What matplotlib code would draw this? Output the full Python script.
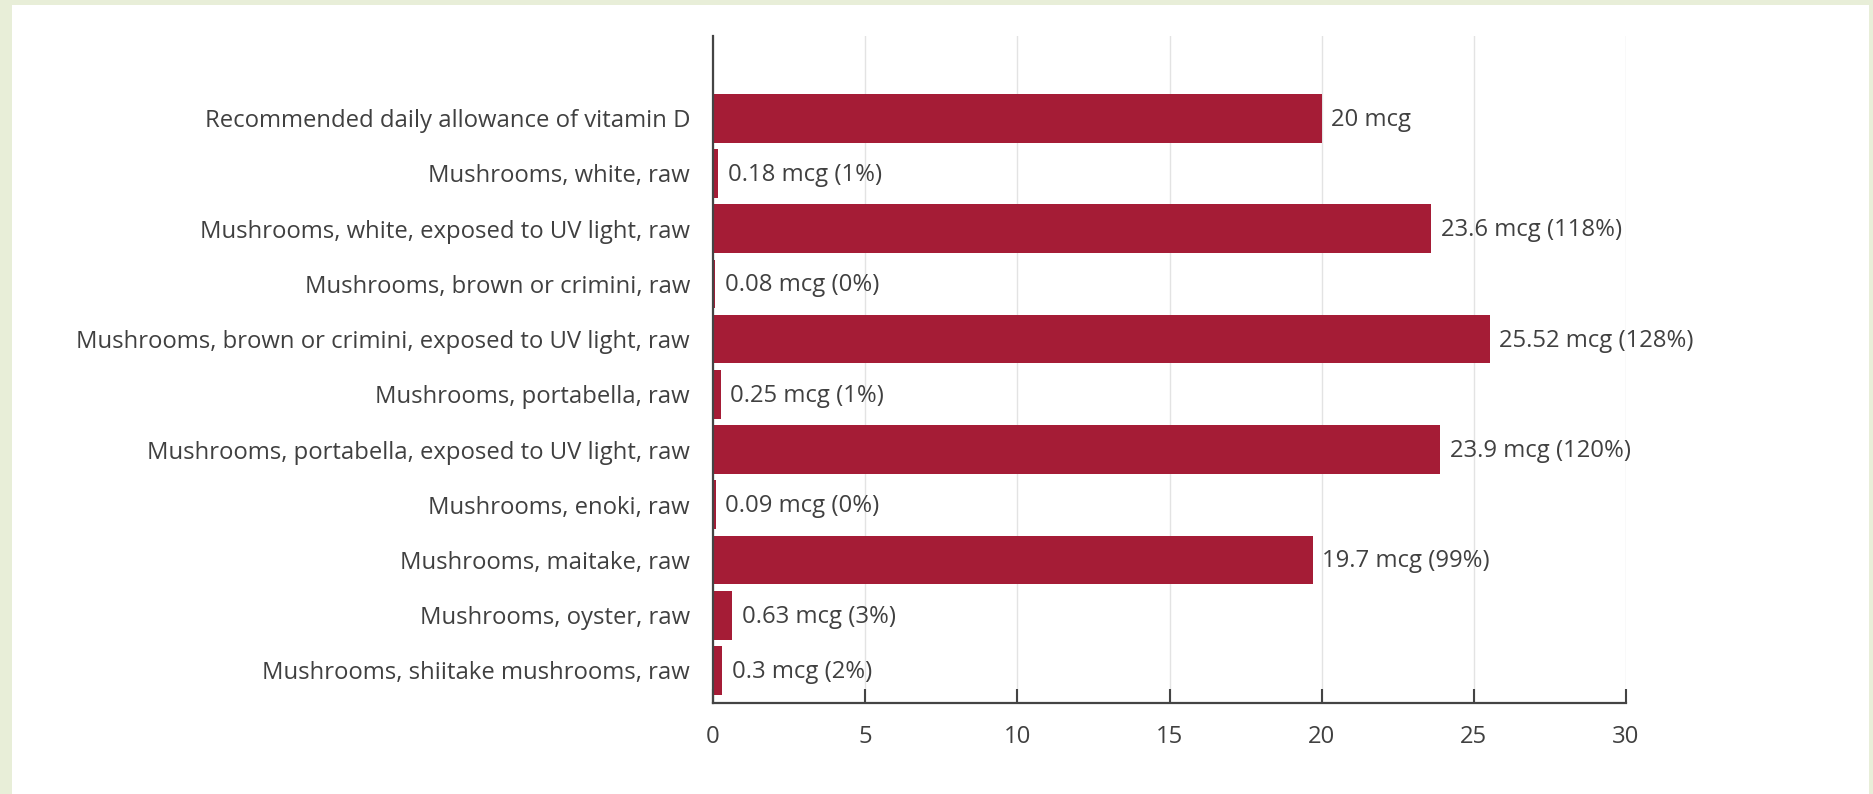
#!/usr/bin/env python3
"""Vitamin D content of mushrooms vs. the recommended daily allowance."""

import matplotlib.pyplot as plt
from matplotlib.patches import Rectangle

CATEGORIES = [
    "Recommended daily allowance of vitamin D",
    "Mushrooms, white, raw",
    "Mushrooms, white, exposed to UV light, raw",
    "Mushrooms, brown or crimini, raw",
    "Mushrooms, brown or crimini, exposed to UV light, raw",
    "Mushrooms, portabella, raw",
    "Mushrooms, portabella, exposed to UV light, raw",
    "Mushrooms, enoki, raw",
    "Mushrooms, maitake, raw",
    "Mushrooms, oyster, raw",
    "Mushrooms, shiitake mushrooms, raw",
]
VALUES_MCG = [20, 0.18, 23.6, 0.08, 25.52, 0.25, 23.9, 0.09, 19.7, 0.63, 0.3]
RDA_MCG = 20
X_TICKS = [0, 5, 10, 15, 20, 25, 30]

BAR_COLOR = "#a51c36"
TEXT_COLOR = "#404040"
BORDER_COLOR = "#e8eed8"
FONT = "Open Sans"
FONT_SIZE = 17.2


def value_label(i: int, v: float) -> str:
    if i == 0:
        return f"{v:g} mcg"
    # round half up, after clearing float noise (23.9 / 20 -> 119.4999...)
    pct = int(round(v / RDA_MCG * 100, 6) + 0.5)
    return f"{v:g} mcg ({pct}%)"


def main() -> None:
    plt.rcParams["font.family"] = [FONT, "DejaVu Sans"]
    fig = plt.figure(figsize=(18.73, 7.94), dpi=100, facecolor=BORDER_COLOR)
    # white card inside the light green frame
    fig.patches.append(Rectangle((12 / 1873, 0), (1869 - 12) / 1873, 1 - 5 / 794,
                                 transform=fig.transFigure, facecolor="white",
                                 edgecolor="none", zorder=-10))

    ax = fig.add_axes([713 / 1873, 1 - 703 / 794, (1626 - 713) / 1873, (703 - 36) / 794])
    ax.set_facecolor("none")

    ypos = list(range(len(CATEGORIES)))
    ax.barh(ypos, VALUES_MCG, height=0.88, color=BAR_COLOR, zorder=3)

    for i, v in enumerate(VALUES_MCG):
        ax.annotate(value_label(i, v), xy=(v, i), xytext=(7, -1), textcoords="offset points",
                    ha="left", va="center", fontsize=FONT_SIZE, color=TEXT_COLOR)

    ax.set_xlim(0, 30)
    ax.set_ylim(len(CATEGORIES) - 1 + 0.59, -1.49)
    ax.set_xticks(X_TICKS)
    ax.set_xticklabels([str(t) for t in X_TICKS])
    ax.set_yticks(ypos)
    ax.set_yticklabels(CATEGORIES)

    ax.tick_params(axis="x", direction="in", length=10, width=1.5, color="#444444",
                   pad=16, labelsize=FONT_SIZE, labelcolor=TEXT_COLOR)
    ax.tick_params(axis="y", length=0, pad=16.5, labelsize=FONT_SIZE, labelcolor=TEXT_COLOR)

    ax.grid(True, axis="x", color="#e3e3e3", linewidth=1.0, zorder=0)
    for side in ("top", "right"):
        ax.spines[side].set_visible(False)
    for side in ("left", "bottom"):
        ax.spines[side].set_color("#444444")
        ax.spines[side].set_linewidth(1.6)
        ax.spines[side].set_zorder(4)

    plt.savefig("out.png", dpi=100, facecolor=fig.get_facecolor())


if __name__ == "__main__":
    main()
